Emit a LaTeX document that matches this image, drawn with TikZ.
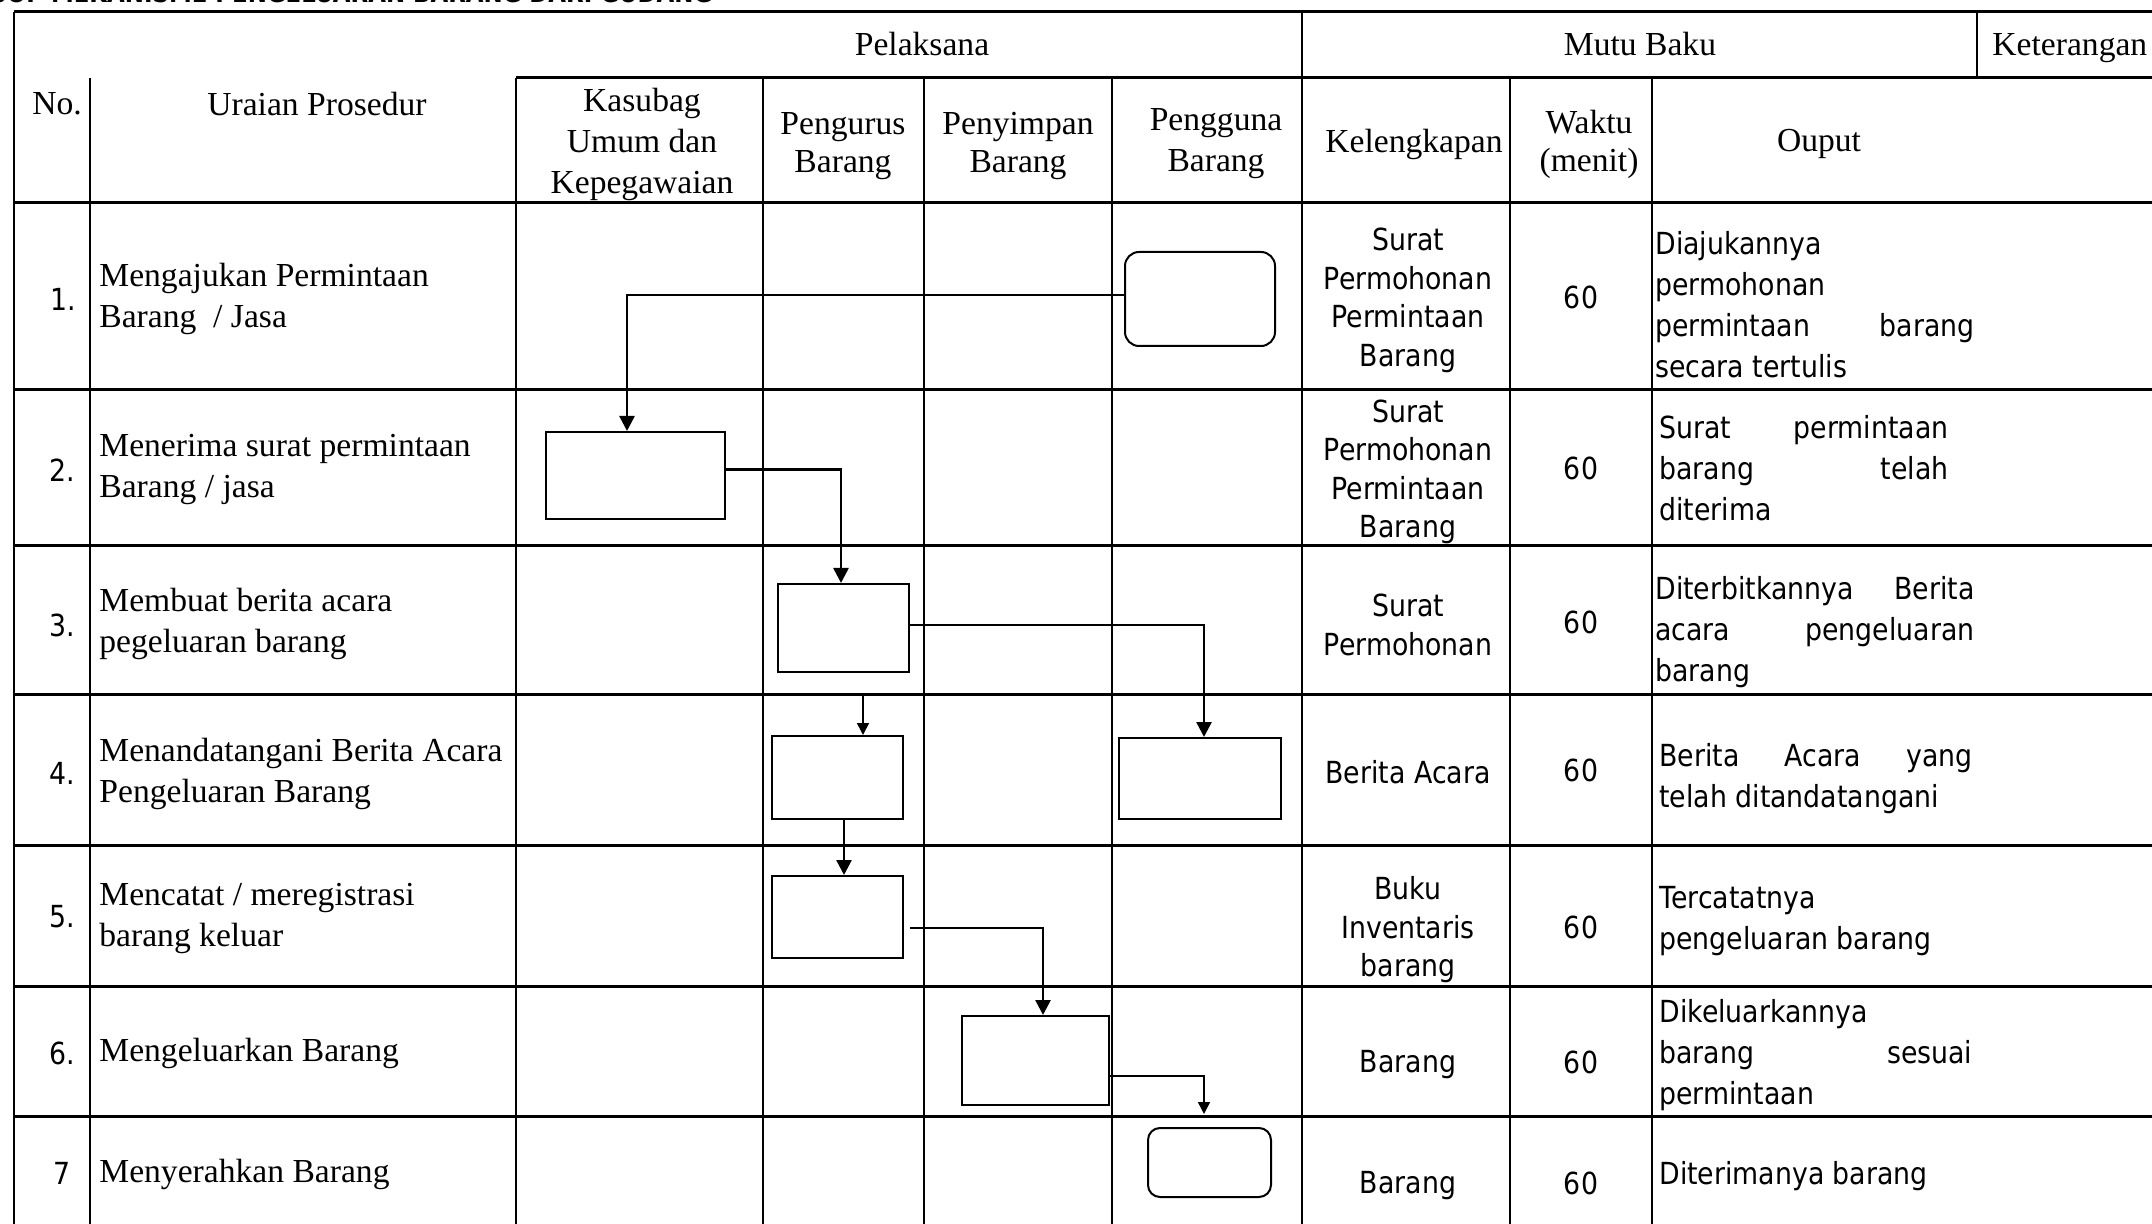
\documentclass[tikz,border=0pt]{standalone}
\usepackage{fontspec}
\setmainfont{Liberation Serif}
\newfontfamily\tahfont[FakeStretch=0.88]{DejaVu Sans}
\usetikzlibrary{arrows.meta,calc}
\begin{document}
\begin{tikzpicture}[x=0.5pt,y=-0.5pt,
  hline/.style={line width=1.5pt},
  vline/.style={line width=1pt},
  hdr/.style={font=\fontsize{16.8}{20.5}\selectfont, inner sep=0pt, align=center},
  hdrtwo/.style={font=\fontsize{16.8}{19}\selectfont, inner sep=0pt, align=center},
  uraian/.style={font=\fontsize{16.8}{20.5}\selectfont, inner sep=0pt, anchor=west, align=left},
  snum/.style={font=\tahfont\fontsize{15.2}{19.25}\selectfont, inner sep=0pt},
  kel/.style={font=\tahfont\fontsize{15.2}{19.25}\selectfont, inner sep=0pt, align=center},
  outp/.style={font=\tahfont\fontsize{15.2}{20.5}\selectfont, inner sep=0pt, anchor=west, align=left},
  proc/.style={draw, line width=1pt, inner sep=0pt},
  term/.style={draw, line width=1pt, rounded corners=7pt, inner sep=0pt},
  flow/.style={line width=1.3pt, -{Triangle[width=7.5pt,length=7.5pt]}},
  thinflow/.style={line width=0.8pt, -{Triangle[width=6pt,length=6pt]}},
]
\fill[white] (0,0) rectangle (2152,1224);
\useasboundingbox (0,0) rectangle (2152,1224);

% title (cut off at top, as in the reference)
\begin{scope}
\clip (0,0) rectangle (2152,1224);
\node[anchor=base west, inner sep=0pt, font=\tahfont\bfseries\fontsize{13}{15}\selectfont] (title) at (-10,3) {SOP MEKANISME PENGELUARAN BARANG DARI GUDANG};
\end{scope}

% table grid
\draw[hline] (14,12) -- (2152,12);
\draw[hline] (516,78) -- (2152,78);
\foreach \yy in {203,390,546,694,845,986,1116} \draw[hline] (14,\yy) -- (2152,\yy);
\draw[line width=1.3pt] (14,12) -- (14,1224);
\draw[vline] (1302,12) -- (1302,1224);
\draw[vline] (1977,12) -- (1977,78);
\foreach \xx in {90,516,763,924,1112,1510,1652} \draw[vline] (\xx,78) -- (\xx,1224);

% header texts
\node[hdr] (hPel) at (922,44) {Pelaksana};
\node[hdr] (hMutu) at (1640,44) {Mutu Baku};
\node[hdr, anchor=west] (hKet) at (1992,48) {Keterangan};
\node[hdr] (hNo) at (57,104) {No.};
\node[hdr] (hUr) at (317,104) {Uraian Prosedur};
\node[hdr] (hKas) at (642,144) {Kasubag\\Umum dan\\Kepegawaian};
\node[hdrtwo] (hPeng) at (843,146) {Pengurus\\Barang};
\node[hdrtwo] (hPeny) at (1018,146) {Penyimpan\\Barang};
\node[hdr] (hGun) at (1216,144) {Pengguna\\Barang};
\node[hdr] (hKel) at (1414,144) {Kelengkapan};
\node[hdrtwo] (hWak) at (1589,144) {Waktu\\(menit)};
\node[hdr] (hOut) at (1819,144) {Ouput};

% numbers
\node[snum] (n1) at (63,299) {1.};
\node[snum] (n2) at (62,470) {2.};
\node[snum] (n3) at (62,625) {3.};
\node[snum] (n4) at (62,773) {4.};
\node[snum] (n5) at (62,917) {5.};
\node[snum] (n6) at (62,1053) {6.};
\node[snum] (n7) at (62,1173) {7};

% uraian prosedur
\node[uraian] (u1) at (99,298.5) {Mengajukan Permintaan\\Barang\ \ / Jasa};
\node[uraian] (u2) at (99,470) {Menerima surat permintaan\\Barang / jasa};
\node[uraian] (u3) at (99,623.5) {Membuat berita acara\\pegeluaran barang};
\node[uraian] (u4) at (99,773.5) {Menandatangani Berita Acara\\Pengeluaran Barang};
\node[uraian] (u5) at (99,918) {Mencatat / meregistrasi\\barang keluar};
\node[uraian] (u6) at (99,1053) {Mengeluarkan Barang};
\node[uraian] (u7) at (99,1174) {Menyerahkan Barang};

% kelengkapan
\node[kel] (k1) at (1408,300.5) {Surat\\Permohonan\\Permintaan\\Barang};
\node[kel] (k2) at (1408,472) {Surat\\Permohonan\\Permintaan\\Barang};
\node[kel] (k3) at (1408,625) {Surat\\Permohonan};
\node[kel] (k4) at (1408,772) {Berita Acara};
\node[kel] (k5) at (1408,930) {Buku\\Inventaris\\barang};
\node[kel] (k6) at (1408,1065) {Barang};
\node[kel] (k7) at (1408,1186) {Barang};

% waktu
\node[kel] (w1) at (1581,297) {60};
\node[kel] (w2) at (1581,468) {60};
\node[kel] (w3) at (1581,622) {60};
\node[kel] (w4) at (1581,770) {60};
\node[kel] (w5) at (1581,927) {60};
\node[kel] (w6) at (1581,1062) {60};
\node[kel] (w7) at (1581,1183) {60};

% output
\node[outp] (o1) at (1655,304.5) {Diajukannya\\permohonan\\\makebox[159.5pt][s]{permintaan\hfill barang}\\secara tertulis};
\node[outp] (o2) at (1659,468.5) {\makebox[144.5pt][s]{Surat\hfill permintaan}\\\makebox[144.5pt][s]{barang\hfill telah}\\diterima};
\node[outp] (o3) at (1655,632) {\makebox[159.5pt][s]{Diterbitkannya\hfill Berita}\\\makebox[159.5pt][s]{acara\hfill pengeluaran}\\barang};
\node[outp] (o4) at (1659,779) {\makebox[156.5pt][s]{Berita\hfill Acara\hfill yang}\\telah ditandatangani};
\node[outp] (o5) at (1659,921.5) {Tercatatnya\\pengeluaran barang};
\node[outp] (o6) at (1659,1055) {Dikeluarkannya\\\makebox[156.5pt][s]{barang\hfill sesuai}\\permintaan};
\node[outp] (o7) at (1659,1176) {Diterimanya barang};

% flow boxes
\node[term, minimum width=75pt, minimum height=47pt] (b1) at (1200,299) {};
\node[proc, minimum width=89.5pt, minimum height=43.5pt] (b2) at (635.5,475.5) {};
\node[proc, minimum width=65.5pt, minimum height=44pt] (b3) at (843.5,628) {};
\node[proc, minimum width=65.5pt, minimum height=41.5pt] (b4a) at (837.5,777.5) {};
\node[proc, minimum width=81pt, minimum height=40.5pt] (b4b) at (1200,778.5) {};
\node[proc, minimum width=65.5pt, minimum height=41pt] (b5) at (837.5,917) {};
\node[proc, minimum width=73.5pt, minimum height=44.5pt] (b6) at (1035.5,1060.5) {};
\node[term, rounded corners=6pt, minimum width=61.5pt, minimum height=34.5pt] (b7) at (1209.5,1162.5) {};

% connectors
\draw[flow] ([yshift=2pt]b1.west) -| ([xshift=-4.25pt]b2.north);
\draw[flow] ([yshift=3pt]b2.east) -| ([xshift=-1.25pt]b3.north);
\draw[flow] ([yshift=1.5pt]b3.east) -| ([xshift=2pt]b4b.north);
\coordinate (c4) at (863,695);
\draw[thinflow] (c4) -- (b4a.north -| c4);
\draw[flow] ([xshift=3.25pt]b4a.south) -- ([xshift=3.25pt]b5.north);
\draw[flow] ([xshift=3pt,yshift=-5.5pt]b5.east) -| ([xshift=3.75pt]b6.north);
\coordinate (c7) at (1204,1114);
\draw[thinflow] ([yshift=-7.75pt]b6.east) -| (c7);
\end{tikzpicture}
\end{document}
